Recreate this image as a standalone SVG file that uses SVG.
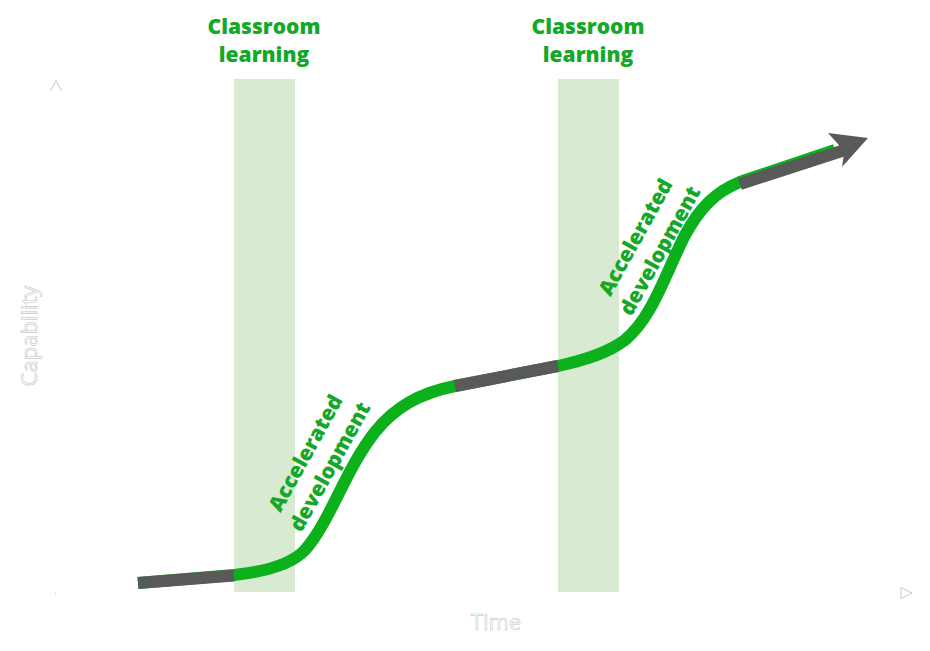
<svg xmlns="http://www.w3.org/2000/svg" width="930" height="651" viewBox="0 0 930 651">
<style>
.band{fill:#d9ead3}
.lbl{font-family:"Open Sans","Liberation Sans",sans-serif;font-weight:800;font-size:21px;fill:#14a829;text-anchor:middle}
.ax{font-family:"Open Sans","Liberation Sans",sans-serif;font-size:22px;fill:#fff;stroke:#c8c8c8;stroke-width:0.6;text-anchor:middle}
.axm{fill:#fff;stroke:#c8c8c8;stroke-width:1}
.g{fill:none;stroke:#0bb01b;stroke-width:12}
.k{fill:none;stroke:#595959;stroke-width:12}
</style>
<rect width="930" height="651" fill="#fff"/>
<g id="band1"><rect class="band" x="234" y="79" width="61" height="513"/></g>
<g id="band2"><rect class="band" x="558" y="79" width="61" height="513"/></g>
<g id="axes">
<line x1="56" y1="84" x2="56" y2="593" stroke="#fff"/>
<line x1="56" y1="593" x2="904" y2="593" stroke="#fff"/>
<polyline class="axm" points="50.5,91 56,80.5 61.5,91"/>
<polygon class="axm" points="901,587.5 912,593 901,598.5"/>
<circle cx="55.5" cy="593.5" r="0.8" fill="#ccc"/>
<text class="ax" x="496" y="630">Time</text>
<text class="ax" transform="translate(37,336) rotate(-90)">Capability</text>
</g>
<g id="connectors">
<path class="g" d="M138,583 L234,575 C262,572 290,566 305,550 C330,522 345,470 375,432 C395,407 420,393 455,386 L558,366 C585,360 608,353 625,340 C652,318 665,275 685,235 C700,208 715,192 740,182 L835,150"/>
<path class="k" d="M138,583 L234,575.5"/>
<path class="k" d="M455,386 L558,366"/>
<path class="k" d="M740,184 L848,149"/>
<polygon fill="#595959" points="828,133 868,138 842,167 844,154 838,144"/>
</g>
<g id="label-classroom1"><text class="lbl" x="264" y="34">Classroom</text><text class="lbl" x="264" y="62">learning</text></g>
<g id="label-classroom2"><text class="lbl" x="588" y="34">Classroom</text><text class="lbl" x="588" y="62">learning</text></g>
<g id="label-accel1" transform="translate(318,460) rotate(-61)"><text class="lbl" x="0" y="-7">Accelerated</text><text class="lbl" x="0" y="21">development</text></g>
<g id="label-accel2" transform="translate(648,244) rotate(-61)"><text class="lbl" x="0" y="-7">Accelerated</text><text class="lbl" x="0" y="21">development</text></g>
</svg>
